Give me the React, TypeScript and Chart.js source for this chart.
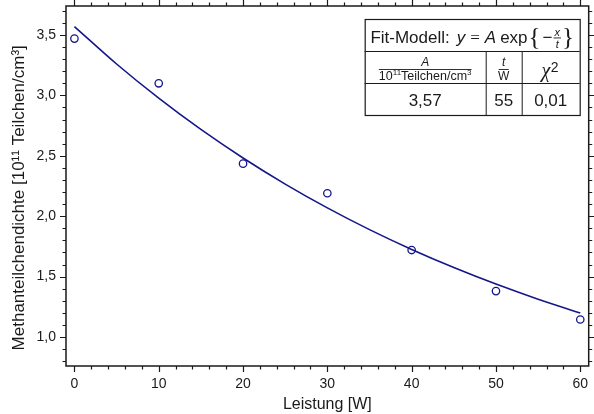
import React, { useEffect, useRef } from "react";
import { Chart, registerables } from "chart.js";

Chart.register(...registerables);

// ---- data ----
const powerW = [0, 10, 20, 30, 40, 50, 60];
const density = [3.47, 3.1, 2.435, 2.19, 1.72, 1.38, 1.145];

const fitX = [0, 5, 10, 15, 20, 25, 30, 35, 40, 45, 50, 55, 60];
const fitY = [3.57, 3.26, 2.977, 2.718, 2.482, 2.266, 2.069, 1.889, 1.725, 1.575, 1.438, 1.313, 1.199];

const xTickValues = [0, 10, 20, 30, 40, 50, 60];
const xTickLabels = ["0", "10", "20", "30", "40", "50", "60"];
const yTickValues = [1.0, 1.5, 2.0, 2.5, 3.0, 3.5];
const yTickLabels = ["1,0", "1,5", "2,0", "2,5", "3,0", "3,5"];

const fitValues = ["3,57", "55", "0,01"];

const xTitle = "Leistung [W]";
const yTitle = "Methanteilchendichte [10\u00B9\u00B9 Teilchen/cm\u00B3]\u00A0\u00A0\u00A0\u00A0\u00A0";

const SANS = "'Liberation Sans', Arial, Helvetica, sans-serif";
const SERIF = "'Liberation Serif', 'DejaVu Serif', serif";
const INK = "#1a1a1a";
const BLUE = "#16168c";

const framePlugin = {
  id: "frameTicks",
  afterDraw(chart: any) {
    const { ctx, chartArea, scales } = chart;
    const { left, right, top, bottom } = chartArea;
    const x = scales.x;
    const y = scales.y;
    ctx.save();
    ctx.strokeStyle = INK;
    ctx.lineWidth = 1.5;
    ctx.strokeRect(left, top, right - left, bottom - top);
    ctx.lineWidth = 1.2;
    ctx.beginPath();
    for (let v = 0; v <= 60; v += 2) {
      const px = Math.round(x.getPixelForValue(v)) + 0.5;
      const len = v % 10 === 0 ? 6 : 3.5;
      ctx.moveTo(px, bottom);
      ctx.lineTo(px, bottom + len);
      ctx.moveTo(px, top);
      ctx.lineTo(px, top - len);
    }
    for (let i = 8; i <= 37; i++) {
      const py = Math.round(y.getPixelForValue(i / 10)) + 0.5;
      const len = i % 5 === 0 ? 6 : 3.5;
      ctx.moveTo(left, py);
      ctx.lineTo(left - len, py);
      ctx.moveTo(right, py);
      ctx.lineTo(right + len, py);
    }
    ctx.stroke();
    ctx.restore();
  },
};

const tablePlugin = {
  id: "fitTable",
  afterDraw(chart: any) {
    const { ctx, chartArea } = chart;
    const right = chartArea.right - 9;
    const left = right - 215;
    const top = chartArea.top + 13;
    const r1 = top + 32;
    const r2 = r1 + 32;
    const bottom = r2 + 32;
    const c1 = left + 121;
    const c2 = c1 + 36;

    ctx.save();
    ctx.fillStyle = "#ffffff";
    ctx.fillRect(left, top, right - left, bottom - top);
    ctx.strokeStyle = INK;
    ctx.lineWidth = 1.2;
    ctx.strokeRect(left + 0.5, top + 0.5, right - left, bottom - top);
    ctx.lineWidth = 1;
    ctx.beginPath();
    ctx.moveTo(left, r1 + 0.5);
    ctx.lineTo(right, r1 + 0.5);
    ctx.moveTo(left, r2 + 0.5);
    ctx.lineTo(right, r2 + 0.5);
    ctx.moveTo(c1 + 0.5, r1);
    ctx.lineTo(c1 + 0.5, bottom);
    ctx.moveTo(c2 + 0.5, r1);
    ctx.lineTo(c2 + 0.5, bottom);
    ctx.stroke();

    ctx.fillStyle = INK;
    ctx.textBaseline = "alphabetic";
    ctx.textAlign = "left";

    // Row 1: Fit-Modell: y = A exp{-x/t}
    const base1 = top + 24;
    type Piece = { t: string; f: string; gap: number; dy?: number; kind?: string };
    const pieces: Piece[] = [
      { t: "Fit-Modell:", f: `17px ${SANS}`, gap: 7 },
      { t: "y", f: `italic 17px ${SANS}`, gap: 5 },
      { t: "=", f: `17px ${SERIF}`, gap: 5 },
      { t: "A", f: `italic 17px ${SANS}`, gap: 4 },
      { t: "exp", f: `17px ${SANS}`, gap: 1 },
      { t: "{", f: `25px ${SERIF}`, gap: 2, dy: 1.5 },
      { t: "\u2212", f: `17px ${SANS}`, gap: 1 },
      { t: "frac", f: `italic 11px ${SANS}`, gap: 1, kind: "frac" },
      { t: "}", f: `25px ${SERIF}`, gap: 0, dy: 1.5 },
    ];
    const widths = pieces.map((p) => {
      ctx.font = p.f;
      if (p.kind === "frac") return Math.max(ctx.measureText("x").width, ctx.measureText("t").width) + 2;
      return ctx.measureText(p.t).width;
    });
    let total = 0;
    pieces.forEach((p, i) => (total += widths[i] + p.gap));
    let cx = (left + right) / 2 - total / 2;
    pieces.forEach((p, i) => {
      ctx.font = p.f;
      if (p.kind === "frac") {
        const w = widths[i];
        ctx.textAlign = "center";
        ctx.fillText("x", cx + w / 2, base1 - 7.5);
        ctx.fillText("t", cx + w / 2, base1 + 4.5);
        ctx.fillRect(cx, base1 - 5.5, w, 0.9);
        ctx.textAlign = "left";
      } else {
        ctx.fillText(p.t, cx, base1 + (p.dy || 0));
      }
      cx += widths[i] + p.gap;
    });

    // Row 2
    const fracLine = r1 + 18;
    const m1 = (left + c1) / 2;
    ctx.textAlign = "center";
    ctx.font = `italic 12px ${SANS}`;
    ctx.fillText("A", m1, fracLine - 3);
    const parts = [
      { t: "10", f: `12.5px ${SANS}`, dy: 0 },
      { t: "11", f: `8px ${SANS}`, dy: -5 },
      { t: "Teilchen/cm", f: `12.5px ${SANS}`, dy: 0 },
      { t: "3", f: `8px ${SANS}`, dy: -5 },
    ];
    const pw = parts.map((p) => {
      ctx.font = p.f;
      return ctx.measureText(p.t).width;
    });
    const dw = pw.reduce((a, b) => a + b, 0);
    ctx.fillRect(m1 - dw / 2, fracLine, dw, 0.9);
    ctx.textAlign = "left";
    let dx = m1 - dw / 2;
    parts.forEach((p, i) => {
      ctx.font = p.f;
      ctx.fillText(p.t, dx, fracLine + 11 + p.dy);
      dx += pw[i];
    });
    const m2 = (c1 + c2) / 2;
    ctx.textAlign = "center";
    ctx.font = `italic 12px ${SANS}`;
    ctx.fillText("t", m2, fracLine - 3);
    ctx.fillRect(m2 - 5, fracLine, 10, 0.9);
    ctx.font = `12px ${SANS}`;
    ctx.fillText("W", m2, fracLine + 11);
    const m3 = (c2 + right) / 2;
    ctx.textAlign = "left";
    ctx.font = `italic 20px ${SERIF}`;
    const chiW = ctx.measureText("\u03C7").width;
    ctx.font = `14px ${SANS}`;
    const twoW = ctx.measureText("2").width;
    const sx = m3 - (chiW + twoW) / 2 - 1;
    ctx.font = `italic 20px ${SERIF}`;
    ctx.fillText("\u03C7", sx, r1 + 26);
    ctx.font = `14px ${SANS}`;
    ctx.fillText("2", sx + chiW + 0.5, r1 + 21);

    // Row 3: values
    ctx.textAlign = "center";
    ctx.font = `17px ${SANS}`;
    const base3 = r2 + 22.5;
    ctx.fillText(fitValues[0], m1, base3);
    ctx.fillText(fitValues[1], m2, base3);
    ctx.fillText(fitValues[2], m3, base3);
    ctx.restore();
  },
};

function zeroPad(s: any) {
  s.paddingTop = 0;
  s.paddingBottom = 0;
  s.paddingLeft = 0;
  s.paddingRight = 0;
}

export default function App() {
  const ref = useRef<HTMLCanvasElement | null>(null);

  useEffect(() => {
    document.body.style.margin = "0";
    const canvas = ref.current;
    if (!canvas) return;
    Chart.defaults.font.family = SANS;
    const chart = new Chart(canvas, {
      type: "scatter",
      data: {
        datasets: [
          {
            label: "Fit",
            data: fitX.map((x, i) => ({ x, y: fitY[i] })),
            showLine: true,
            borderColor: BLUE,
            borderWidth: 1.6,
            pointRadius: 0,
            cubicInterpolationMode: "monotone",
            fill: false,
          },
          {
            label: "Messwerte",
            data: powerW.map((x, i) => ({ x, y: density[i] })),
            showLine: false,
            borderColor: BLUE,
            backgroundColor: "rgba(0,0,0,0)",
            pointStyle: "circle",
            pointRadius: 3.7,
            pointBorderWidth: 1.3,
          },
        ],
      } as any,
      options: {
        responsive: false,
        animation: false,
        events: [],
        layout: { padding: { top: 6, right: 2, left: 0, bottom: 0 } },
        plugins: {
          legend: { display: false },
          tooltip: { enabled: false },
        },
        scales: {
          x: {
            type: "linear",
            min: -1,
            max: 61,
            afterBuildTicks: (s: any) => {
              s.ticks = xTickValues.map((v) => ({ value: v }));
            },
            afterFit: (s: any) => {
              s.height = 48;
              zeroPad(s);
            },
            grid: { display: false, drawTicks: false, tickLength: 0 },
            border: { display: false },
            ticks: {
              autoSkip: false,
              maxRotation: 0,
              padding: 10,
              color: INK,
              font: { size: 14, family: SANS },
              callback: (_v: any, i: number) => xTickLabels[i],
            },
            title: {
              display: true,
              text: xTitle,
              color: INK,
              font: { size: 16, family: SANS },
              padding: { top: 0, bottom: 0 },
            },
          },
          y: {
            type: "linear",
            min: 0.76,
            max: 3.74,
            afterBuildTicks: (s: any) => {
              s.ticks = yTickValues.map((v) => ({ value: v }));
            },
            afterFit: (s: any) => {
              s.width = 66;
              zeroPad(s);
            },
            grid: { display: false, drawTicks: false, tickLength: 0 },
            border: { display: false },
            ticks: {
              autoSkip: false,
              padding: 10,
              color: INK,
              font: { size: 14, family: SANS },
              callback: (_v: any, i: number) => yTickLabels[i],
            },
            title: {
              display: true,
              text: yTitle,
              color: INK,
              font: { size: 17, family: SANS },
              padding: { top: 9, bottom: 0 },
            },
          },
        },
      } as any,
      plugins: [framePlugin, tablePlugin],
    });
    return () => chart.destroy();
  }, []);

  return (
    <div style={{ width: 594, height: 414 }}>
      <canvas ref={ref} width={594} height={414} style={{ display: "block" }} />
    </div>
  );
}
